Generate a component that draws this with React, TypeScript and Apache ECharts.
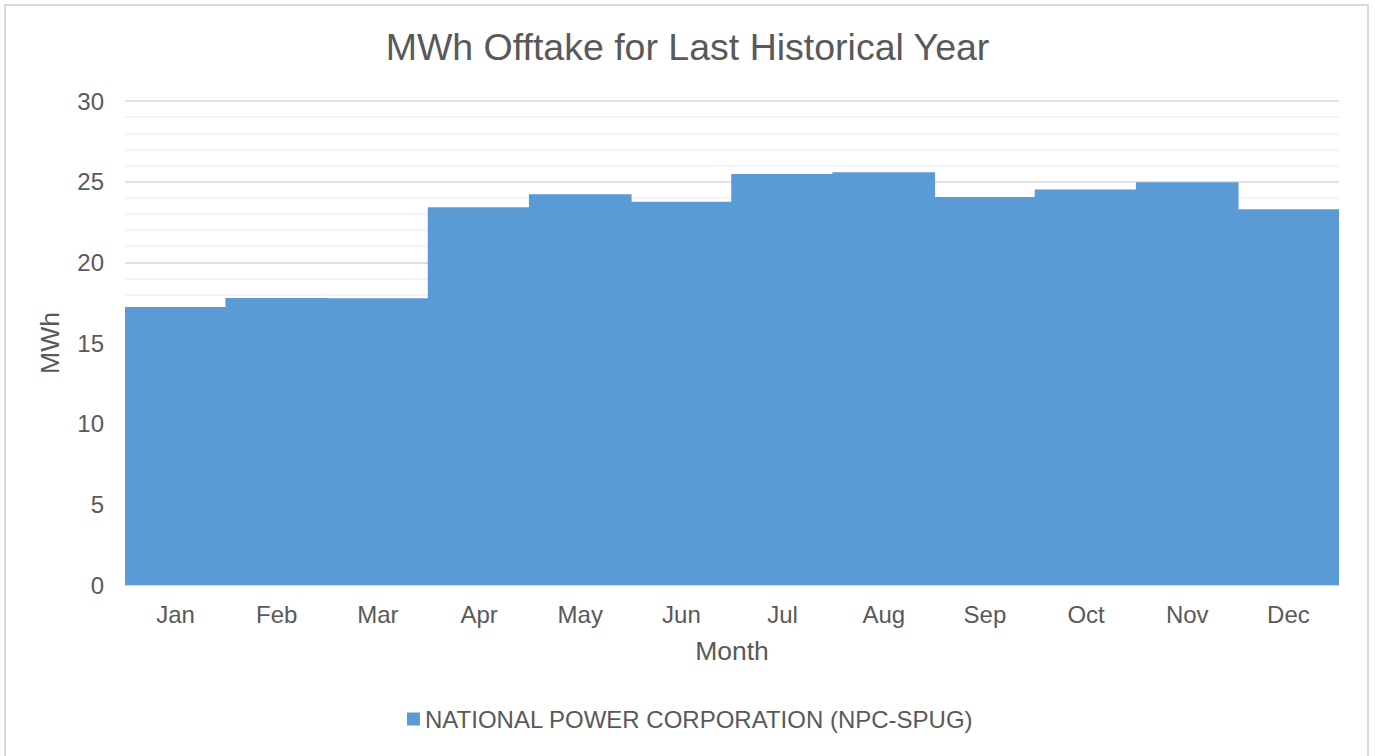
import React, { useEffect, useRef } from "react";
import * as echarts from "echarts";

const months = ["Jan", "Feb", "Mar", "Apr", "May", "Jun", "Jul", "Aug", "Sep", "Oct", "Nov", "Dec"];
const offtake = [17.23, 17.79, 17.77, 23.42, 24.22, 23.76, 25.48, 25.59, 24.05, 24.51, 24.96, 23.29];
const seriesName = "NATIONAL POWER CORPORATION (NPC-SPUG)";
const titleText = "MWh Offtake for Last Historical Year";

const FONT = "'Liberation Sans', Arial, sans-serif";
const TEXT = "#595959";
const BAR = "#5b9bd5";

export default function App() {
  const ref = useRef<HTMLDivElement>(null);
  useEffect(() => {
    if (!ref.current) return;
    const chart = echarts.init(ref.current, undefined, { renderer: "svg" });
    chart.setOption({
      animation: false,
      backgroundColor: "#ffffff",
      textStyle: { fontFamily: FONT },
      title: {
        text: titleText,
        left: "center",
        top: 25,
        padding: 0,
        textStyle: { fontFamily: FONT, fontSize: 37.5, fontWeight: "normal", color: TEXT, lineHeight: 44 },
      },
      legend: {
        data: [seriesName],
        left: 407,
        top: 705,
        padding: 0,
        icon: "rect",
        itemWidth: 13,
        itemHeight: 13,
        itemGap: 4,
        textStyle: { fontFamily: FONT, fontSize: 24, color: TEXT, lineHeight: 28 },
      },
      graphic: [
        {
          type: "rect",
          shape: { x: 5, y: 5, width: 1363, height: 800 },
          style: { fill: "none", stroke: "#d9d9d9", lineWidth: 2 },
          silent: true,
          z: -1,
        },
      ],
      grid: { left: 125, right: 36, top: 101, bottom: 171 },
      xAxis: {
        type: "category",
        data: months,
        name: "Month",
        nameLocation: "middle",
        nameGap: 52,
        nameTextStyle: { fontFamily: FONT, fontSize: 26.5, color: TEXT },
        axisLine: { show: true, lineStyle: { color: "#d9d9d9", width: 1 } },
        axisTick: { show: false },
        axisLabel: { fontFamily: FONT, fontSize: 24, color: TEXT, margin: 17 },
      },
      yAxis: {
        type: "value",
        min: 0,
        max: 30,
        interval: 5,
        name: "MWh",
        nameLocation: "middle",
        nameRotate: 90,
        nameGap: 62,
        nameTextStyle: { fontFamily: FONT, fontSize: 26.5, color: TEXT },
        axisLine: { show: false },
        axisTick: { show: false },
        axisLabel: { fontFamily: FONT, fontSize: 24, color: TEXT, margin: 21 },
        splitLine: { show: true, lineStyle: { color: "#d9d9d9", width: 1.5 } },
        minorTick: { show: false, splitNumber: 5 },
        minorSplitLine: { show: true, lineStyle: { color: "#f2f2f2", width: 1.5 } },
      },
      series: [
        {
          name: seriesName,
          type: "bar",
          data: offtake,
          barWidth: "101.5%",
          barCategoryGap: "0%",
          itemStyle: { color: BAR },
        },
      ],
    });
    return () => chart.dispose();
  }, []);
  return (
    <div
      ref={ref}
      style={{ position: "absolute", left: 0, top: 0, width: 1375, height: 756 }}
    />
  );
}
